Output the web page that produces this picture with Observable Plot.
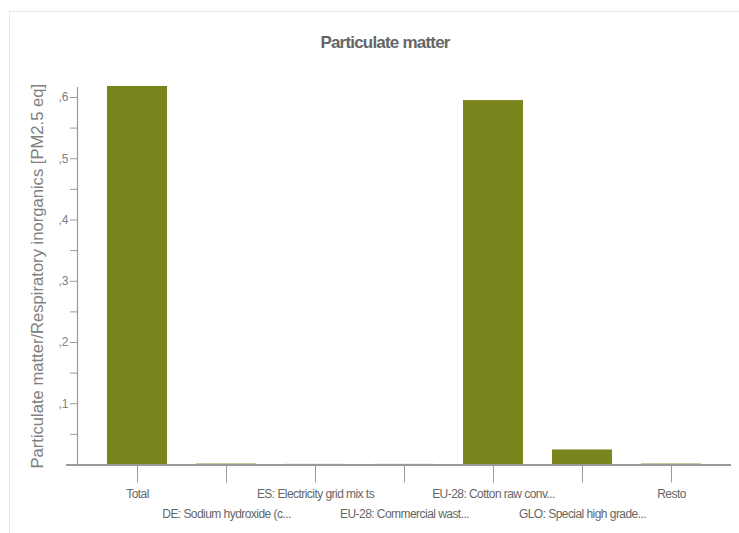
<!DOCTYPE html>
<html>
<head>
<meta charset="utf-8">
<script src="https://cdn.jsdelivr.net/npm/d3@7"></script>
<script src="https://cdn.jsdelivr.net/npm/@observablehq/plot@0.6"></script>
<style>
  html, body { margin: 0; padding: 0; background: #fff; }
  #wrap { position: relative; width: 739px; height: 533px; overflow: hidden; font-family: "Liberation Sans", Arial, sans-serif; }
  #border { position: absolute; left: 9px; top: 11px; width: 800px; height: 600px; border: 1px solid #dde9f1; box-sizing: border-box; }
  #title { position: absolute; left: 0; width: 770px; top: 33px; text-align: center; font-size: 17px; font-weight: bold; color: #666; letter-spacing: -0.8px; }
  #chart { position: absolute; left: 0; top: 0; }
</style>
</head>
<body>
<div id="wrap">
  <div id="border"></div>
  <div id="chart"></div>
  <div id="title">Particulate matter</div>
</div>
<script>
const categories = [
  "Total",
  "DE: Sodium hydroxide (c...",
  "ES: Electricity grid mix ts",
  "EU-28: Commercial wast...",
  "EU-28: Cotton raw conv...",
  "GLO: Special high grade...",
  "Resto"
];
const values = [0.618, 0.0015, 0.001, 0.001, 0.595, 0.0245, 0.0015];
const yMajorTicks = [0.1, 0.2, 0.3, 0.4, 0.5, 0.6];
const yTickLabels = [",1", ",2", ",3", ",4", ",5", ",6"];
const yMinorTicks = [0.05, 0.15, 0.25, 0.35, 0.45, 0.55];
const yLabel = "Particulate matter/Respiratory inorganics [PM2.5 eq]";

const data = categories.map((c, i) => ({category: c, value: values[i]}));
const rowA = categories.filter((d, i) => i % 2 === 0);
const rowB = categories.filter((d, i) => i % 2 === 1);

const chart = Plot.plot({
  width: 739,
  height: 533,
  marginLeft: 77,
  marginRight: 8,
  marginTop: 87,
  marginBottom: 68.5,
  style: {fontFamily: "'Liberation Sans', Arial, sans-serif", background: "transparent", overflow: "visible"},
  x: {domain: categories, range: [105.8, 702.8], paddingInner: 0.33, paddingOuter: 0, align: 0.5},
  y: {domain: [0, 0.6163]},
  marks: [
    Plot.barY(data, {x: "category", y: "value", fill: "#7b851e"}),
    Plot.ruleY([0], {stroke: "#9a9a9a", strokeWidth: 2, insetLeft: -11}),
    Plot.frame({anchor: "left", stroke: "#9a9a9a", strokeWidth: 1.2}),
    Plot.axisY(yMajorTicks, {tickSize: 7, tickPadding: 2, stroke: "#9a9a9a", fill: "#808080", fontSize: 12,
      tickFormat: d => yTickLabels[yMajorTicks.indexOf(d)], label: null}),
    Plot.axisY(yMinorTicks, {tickSize: 7, stroke: "#9a9a9a", tickFormat: null, text: null, label: null}),
    Plot.axisX(rowA, {tickSize: 18, tickPadding: 6, stroke: "#9a9a9a", fill: "#666", fontSize: 12, label: null}),
    Plot.axisX(rowB, {tickSize: 18, tickPadding: 26, stroke: "#9a9a9a", fill: "#666", fontSize: 12, label: null}),
    Plot.text([yLabel], {frameAnchor: "left", dx: -40, rotate: -90, fill: "#808080", fontSize: 16.6, textAnchor: "middle"})
  ]
});
chart.querySelectorAll('g[aria-label="x-axis tick label"] text').forEach(t => {
  t.style.letterSpacing = "-0.55px";
});
document.getElementById("chart").appendChild(chart);
</script>
</body>
</html>
